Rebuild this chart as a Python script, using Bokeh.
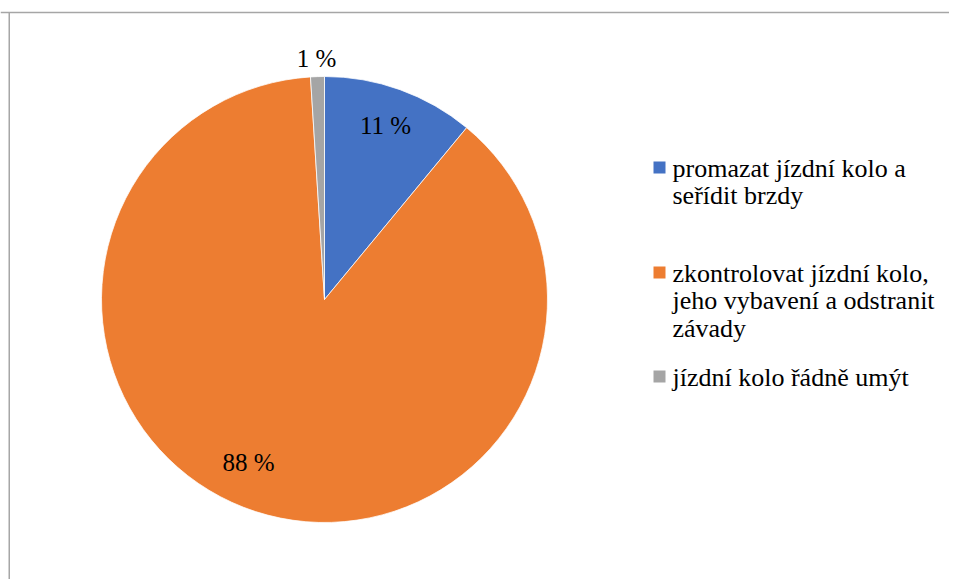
import numpy as np
from bokeh.plotting import figure
from bokeh.models import Range1d, ColumnDataSource
from bokeh.core.properties import value
from bokeh.embed import file_html
from bokeh.resources import INLINE

categories = ["promazat jízdní kolo a\nseřídit brzdy",
              "zkontrolovat jízdní kolo,\njeho vybavení a odstranit\nzávady",
              "jízdní kolo řádně umýt"]
values = [11, 88, 1]
labels = ["11 %", "88 %", "1 %"]
colors = ["#4472C4", "#ED7D31", "#A5A5A5"]

FONT = value("Liberation Serif")

W, H = 949, 579
p = figure(width=W, height=H, output_backend="svg", toolbar_location=None,
           x_range=Range1d(0, W), y_range=Range1d(0, H),
           min_border=0, min_border_left=0, min_border_right=0,
           min_border_top=0, min_border_bottom=0)
p.axis.visible = False
p.grid.visible = False
p.outline_line_color = None
p.background_fill_color = "white"

# pie
cx, cy, R = 324, 280, 223
frac = np.array(values, dtype=float) / sum(values)
ends = np.pi / 2 - 2 * np.pi * np.cumsum(frac)
starts = np.concatenate([[np.pi / 2], ends[:-1]])
src = ColumnDataSource(dict(start=starts, end=ends, color=colors, cat=categories))
p.wedge(x=cx, y=cy, radius=R, start_angle="start", end_angle="end",
        direction="clock", fill_color="color", line_color="white", line_width=0.75,
        source=src)

# data labels
lab_x = [385, 248, 316]
lab_y = [454, 117, 521]
p.text(x=lab_x, y=lab_y, text=labels, text_font=FONT,
       text_font_size="25px", text_align="center", text_baseline="middle",
       text_color="black")

# legend
leg_x = 659
leg_y = [412, 307, 203]
p.scatter(x=[leg_x] * 3, y=leg_y, marker="square", size=12, fill_color=colors,
          line_color=None)
p.text(x=[672] * 3, y=[v + 14 for v in leg_y], text=categories,
       text_font=FONT, text_font_size="26px",
       text_align="left", text_baseline="top", text_line_height=0.96,
       text_color="black")

# chart border (top and left visible)
p.segment(x0=[0, 8.75], y0=[567, -10], x1=[W, 8.75], y1=[567, 567],
          line_color="#A6A6A6", line_width=1.5)

open("out.html", "w").write(file_html(p, INLINE))
